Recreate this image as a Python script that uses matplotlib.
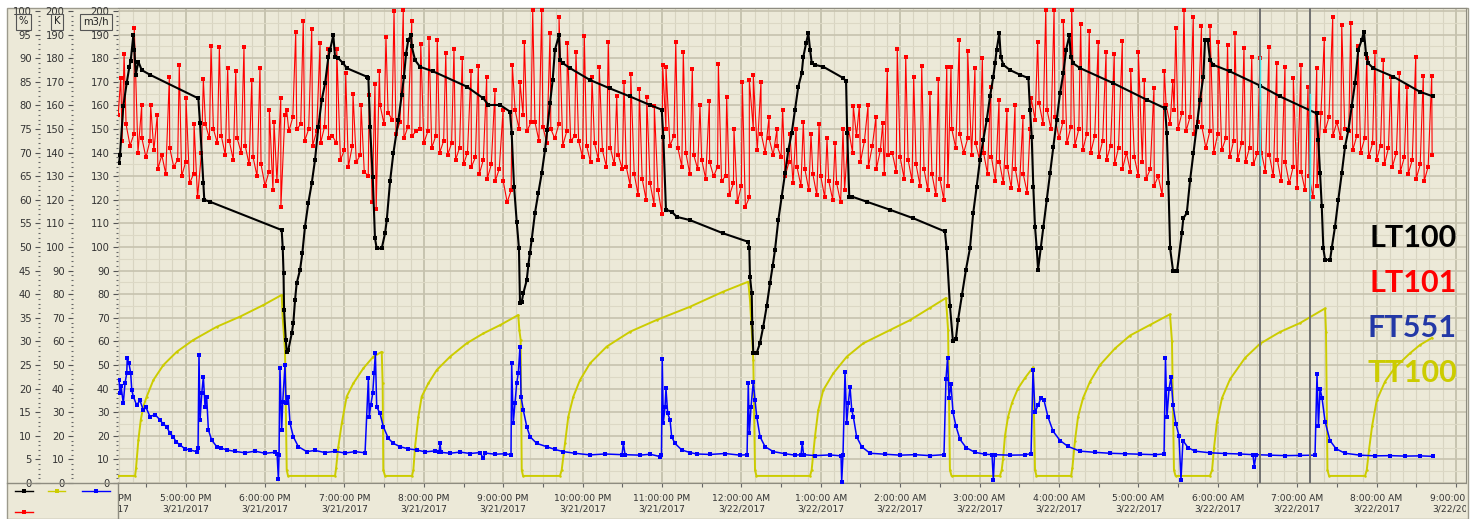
import datetime as dt
import numpy as np
import matplotlib
matplotlib.use("Agg")
import matplotlib.pyplot as plt
from matplotlib.ticker import MultipleLocator, FixedLocator
from matplotlib.transforms import Bbox, TransformedBbox
from matplotlib.lines import Line2D
from matplotlib.patches import Rectangle

W, H = 1470, 519
BG = '#ECE9D8'

# time is in minutes after 4:00:00 PM 3/21/2017
START = dt.datetime(2017, 3, 21, 16, 0, 0)
T_MIN, T_MAX = 8.9, 1027.6
HOURS = list(range(0, 1081, 60))

# LT100 level in % (black)
lt100 = [(9.7, 67.8), (10.4, 69.5), (12.9, 79.8), (15.5, 84.8), (17.5, 88.2), (18.5, 89.5), (20.5, 94.9),
         (21.3, 91.8), (22.3, 86.5), (24.3, 89.3), (26.8, 87.5), (33.1, 86.5), (69.6, 81.5), (70.9, 76.2),
         (73.4, 63.5), (74.1, 60.0), (78.4, 59.6), (132.6, 53.6), (133.4, 49.7), (134.0, 44.4), (134.4, 36.7),
         (135.7, 30.3), (136.4, 27.8), (137.6, 28.2), (140.2, 31.7), (141.4, 33.9), (142.7, 38.8), (143.9, 42.3),
         (146.5, 45.2), (148.2, 48.7), (150.2, 54.3), (152.7, 59.3), (155.3, 63.5), (157.8, 68.5), (160.3, 75.5),
         (162.9, 81.2), (165.4, 84.7), (167.9, 90.3), (169.2, 91.8), (171.6, 94.9), (172.9, 90.3), (175.4, 90.0),
         (179.2, 88.9), (181.8, 87.9), (196.9, 86.1), (198.1, 85.8), (199.4, 75.5), (201.4, 64.9), (203.1, 51.9),
         (204.4, 49.7), (208.2, 49.7), (210.7, 52.9), (212.0, 55.7), (214.5, 63.9), (217.0, 69.9), (220.8, 76.9),
         (223.3, 82.2), (225.0, 86.1), (226.6, 91.0), (228.3, 93.9), (230.3, 94.9), (230.9, 92.5), (233.4, 89.6),
         (237.1, 88.2), (247.2, 87.2), (272.4, 84.0), (285.0, 81.5), (288.8, 80.1), (297.6, 80.1), (305.1, 78.7),
         (306.4, 74.1), (308.2, 62.8), (310.2, 55.4), (311.9, 49.7), (312.7, 38.1), (314.0, 38.4), (315.2, 40.2),
         (317.8, 43.0), (319.0, 46.2), (320.2, 48.7), (321.5, 51.5), (324.0, 57.2), (326.5, 61.4), (329.1, 65.6),
         (331.6, 70.6), (333.3, 74.8), (335.4, 80.5), (337.4, 85.4), (339.1, 91.8), (342.2, 94.9), (342.9, 89.6),
         (345.4, 88.9), (350.5, 87.9), (365.6, 85.4), (380.7, 83.6), (395.8, 81.9), (410.9, 80.1), (419.8, 79.1),
         (421.0, 73.4), (423.0, 57.9), (427.3, 57.5), (431.1, 56.4), (441.2, 55.7), (466.3, 52.9), (485.2, 51.1),
         (486.0, 49.7), (486.5, 43.7), (487.8, 40.2), (488.2, 33.9), (489.0, 27.5), (491.5, 27.5), (494.0, 29.6),
         (496.5, 33.1), (499.1, 37.4), (501.6, 42.3), (503.6, 45.9), (505.4, 49.4), (507.9, 55.7), (510.5, 60.7),
         (513.0, 65.6), (515.5, 70.6), (518.0, 74.1), (520.5, 79.1), (523.0, 84.0), (525.6, 86.8), (526.8, 90.3),
         (528.9, 93.2), (530.6, 95.3), (531.9, 91.8), (533.2, 88.9), (535.6, 88.6), (541.9, 88.2), (557.0, 85.8),
         (559.1, 85.1), (560.0, 74.1), (561.5, 60.7), (563.4, 60.7), (574.7, 59.6), (592.3, 57.9), (609.9, 56.1),
         (633.8, 53.3), (635.1, 49.7), (637.6, 37.5), (639.9, 30.0), (642.1, 30.5), (643.7, 34.5), (646.7, 39.9),
         (649.7, 45.2), (652.7, 49.7), (655.2, 57.2), (657.8, 62.8), (660.3, 68.5), (662.8, 72.7), (665.4, 76.9),
         (667.9, 81.9), (670.4, 86.1), (671.7, 88.9), (672.9, 91.8), (674.9, 95.3), (676.0, 90.3), (678.0, 88.6),
         (683.0, 87.5), (690.6, 86.5), (696.9, 85.8), (698.1, 79.1), (699.4, 73.4), (700.6, 62.8), (701.9, 54.3),
         (703.2, 49.7), (704.2, 45.2), (706.2, 49.7), (708.2, 54.3), (710.8, 60.0), (713.3, 65.6), (715.8, 71.3),
         (718.3, 76.9), (720.8, 82.6), (723.3, 86.8), (725.4, 91.8), (727.9, 94.9), (728.9, 90.3), (730.9, 88.9),
         (736.0, 87.9), (761.2, 84.7), (786.4, 81.2), (800.2, 79.4), (801.5, 74.1), (802.7, 63.5), (804.0, 49.7),
         (806.2, 45.0), (809.3, 45.0), (812.8, 52.9), (814.0, 56.1), (816.6, 57.2), (819.1, 64.2), (821.6, 69.9),
         (824.1, 75.5), (826.6, 81.2), (829.1, 86.1), (830.4, 93.9), (832.4, 93.9), (834.2, 89.6), (836.7, 88.6),
         (849.3, 87.2), (872.0, 84.2), (887.1, 81.9), (914.8, 78.3), (916.0, 72.7), (917.3, 65.6), (918.6, 58.6),
         (919.8, 49.7), (921.1, 47.3), (924.9, 47.3), (926.1, 49.7), (928.6, 54.3), (931.1, 60.0), (933.7, 65.6),
         (936.2, 71.3), (938.7, 74.8), (941.2, 79.8), (943.7, 84.7), (946.2, 91.8), (948.8, 93.9), (950.5, 95.6),
         (952.0, 91.0), (953.8, 88.9), (957.5, 87.9), (972.7, 86.1), (992.8, 82.9), (1002.9, 81.9)]

# LT101 level in % (red): readings every 3 min from 4:09 PM ...
lt101_band_start = 9
lt101_band_step = 3
lt101_band = [78, 72.5, 76, 71.5, 74, 70, 73, 69, 72.5,
              70.5, 66.5, 69.5, 65.5, 71, 67, 68.5, 65, 68, 63.5, 65.5, 60.5, 70,
              76, 73, 75, 72, 73.5, 69.5, 72.5, 68.5, 73, 70, 71.5, 67.5,
              69, 65, 67.5, 63, 66, 62, 64, 58.5, 78, 74.5, 77.5, 75,
              76, 72.5, 75, 71.5, 74.5, 72, 75.5, 73, 73.5, 72, 68.5, 70.5, 67, 71.5, 68, 69.5, 66,
              65, 59.5, 58, 80, 76, 78.5, 77, 74, 76.5, 73, 75.5, 73.5, 74.5,
              75, 72, 74.5, 71, 73.5, 70, 72.5, 69.5, 72, 68.5, 71, 67.5, 70, 67, 69, 65.5, 68.5, 64.5, 67.5, 64, 66.5,
              64, 59.5, 62, 79, 75, 78, 74.5, 76.5,
              76.5, 72.5, 75.5, 72, 75, 73, 76, 71.5, 74.5, 72.5, 73.5,
              72.5, 69, 71.5, 68, 72, 68.5, 70.5, 67, 71, 67.5, 69.5, 66.5,
              67, 63, 65.5, 61, 64.5, 60, 63.5, 59, 62, 57, 75, 71.5, 73.5,
              71, 67, 70, 65.5, 69.5, 66.5, 68.5, 64.5, 68, 65, 67, 64,
              65, 61, 63.5, 59.5, 63, 58.5, 60.5, 75, 70.5, 74, 70, 73, 69.5, 71.5,
              69, 65, 68, 63.5, 67, 63, 66.5, 62, 65.5, 61, 65, 60.5, 64, 60, 63.5, 59.5, 62,
              75, 70, 73.5, 68, 72.5, 67, 71.5, 66.5, 70.5, 65.5, 69.5,
              70, 66, 69, 64.5, 68.5, 64, 67.5, 63, 66.5, 62, 65.5, 61, 64.5, 60, 63,
              75, 71, 74, 70, 73, 69.5, 72, 68.5,
              70, 65.5, 69, 64, 68, 63.5, 67, 62.5, 66.5, 62, 65.5, 61.5,
              81.5, 77, 80.5, 76, 79, 75,
              77.5, 73, 76.5, 72, 75.5, 71.5, 75, 70.5, 74, 70, 73.5, 69, 72.5, 68.5,
              71.5, 67.5, 71, 66.5, 70, 66, 69, 65, 68, 64.5, 66.5, 63, 65, 61,
              80, 76, 79, 75, 78.5, 74.5, 77.5, 74, 76.5,
              75.5, 71, 74.5, 70, 74, 70.5, 73, 69, 72.5, 68.5, 72, 68, 71, 67.5, 70,
              70, 66, 69.5, 65, 68.5, 64, 68, 63.5, 67, 62.5, 66, 62, 65, 60.5, 63,
              78.5, 74.5, 77.5, 73.5, 76.5, 73, 75,
              74.5, 70.5, 73.5, 70, 73, 69, 72, 68.5, 71.5, 67.5, 71, 67, 70, 66, 69, 65.5,
              68.5, 64.5, 67.5, 64, 67, 69.5]
# ... and the spikes (time, %)
lt101_spikes = [(11.0, 85.8), (13.5, 91), (21.2, 96.4), (26.8, 80), (33.6, 80), (38.6, 78), (47.7, 86),
                (55.2, 88.5), (60.3, 81.5), (66.4, 76), (73.4, 85.5), (79.2, 92.5), (85.5, 92.3), (91.8, 87.9),
                (97.9, 87.4), (104.1, 92.3), (110.0, 85.4), (116.2, 88), (123.3, 79), (126.8, 76.5), (131.9, 81.5),
                (136.4, 79), (143.2, 95.5), (148.9, 98), (155.3, 96.2), (161.6, 93.2), (167.8, 92), (174.2, 92),
                (181.0, 86.8), (186.5, 82.5), (192.6, 80), (198.8, 82.2), (203.1, 84.5), (206.4, 87.2),
                (211.4, 94.4), (217.5, 100), (224.5, 100.2), (230.9, 97.8), (237.7, 93), (243.9, 94.2),
                (250.2, 93.9), (256.6, 91.2), (262.8, 91.9), (269.1, 90.1), (275.7, 87.4), (281.2, 88.4),
                (287.5, 86), (293.8, 83.3), (299.9, 79), (306.9, 88.6), (312.7, 85), (316.0, 93.5), (322.3, 100.2),
                (329.1, 100.2), (335.4, 95.3), (342.2, 98.7), (348.5, 93.2), (355.0, 91.4), (361.3, 94.8),
                (367.1, 86), (372.6, 88.2), (379.4, 93.4), (385.8, 81.9), (391.3, 85), (396.4, 86.7), (402.9, 83.4),
                (408.5, 81.7), (414.2, 79.9), (420.5, 88.6), (423.0, 88.2), (430.4, 93.4), (436.1, 91.3),
                (442.9, 87.7), (448.7, 80), (455.8, 81), (462.6, 88.8), (468.9, 81.7), (474.4, 75), (480.7, 85),
                (486.0, 85.3), (489.0, 86.5), (494.8, 85), (500.9, 77.5), (506.9, 75), (511.2, 79), (516.7, 74),
                (521.3, 75), (526.8, 76.4), (532.6, 74), (538.7, 76), (544.7, 73), (550.8, 72), (556.8, 75),
                (564.6, 79.8), (569.1, 79.9), (575.7, 80), (581.7, 77.5), (586.8, 76.2), (590.3, 87.5),
                (597.8, 91.9), (604.2, 90.3), (610.2, 86), (616.3, 88.4), (622.5, 82.7), (628.8, 85.5),
                (635.2, 88.2), (638.4, 88.2), (644.7, 93.9), (651.0, 91.6), (656.5, 87.9), (662.1, 90), (668.4, 84),
                (674.7, 81.2), (680.7, 79), (686.8, 80), (692.8, 77.5), (698.1, 75), (703.9, 93.5), (710.0, 100.2),
                (716.3, 100.2), (723.3, 98), (729.6, 100.2), (736.4, 97.2), (742.9, 95.8), (749.7, 93.4),
                (755.6, 91.3), (761.8, 91), (767.9, 93.7), (774.2, 87.5), (780.0, 91.3), (784.5, 85.4),
                (791.8, 83.8), (799.6, 87.4), (806.0, 85.2), (808.3, 96.4), (814.5, 100.2), (821.5, 98.8),
                (827.7, 96.8), (834.1, 96.8), (840.4, 93.5), (847.4, 92.8), (853.0, 95.3), (859.8, 92.1),
                (865.7, 90.3), (871.9, 90), (878.7, 92.3), (884.6, 89), (890.8, 88.2), (897.1, 85.8), (902.9, 88.6),
                (908.2, 84), (914.8, 87.9), (920.5, 94), (926.9, 98.8), (933.7, 97), (940.5, 97.5), (946.0, 92.5),
                (952.6, 90), (958.8, 91.4), (965.1, 89.6), (970.9, 86), (977.2, 86.8), (983.0, 84), (989.6, 90.2),
                (995.3, 86.3), (1001.7, 86.3)]

# FT551 flow in m3/h (blue)
ft551 = [(9.7, 43.6), (10.4, 38), (11.2, 41), (12.9, 33.8), (14.2, 42.3), (15.5, 46.5), (15.9, 52.8), (17.2, 50.7),
         (18.5, 46.5), (19.3, 39.4), (20.5, 36.6), (23.0, 33), (25.5, 35), (28.0, 30.9), (30.1, 32), (33.1, 28.1),
         (36.9, 29), (40.7, 26.7), (42.9, 25), (45.7, 23.9), (48.2, 21), (50.7, 19.6), (52.7, 17.5), (55.8, 16.1),
         (59.5, 14.5), (63.3, 14), (68.4, 13.3), (69.4, 15), (70.1, 54.2), (70.9, 26.7), (72.2, 38), (73.4, 45),
         (74.7, 32.3), (75.9, 36.6), (77.2, 22.5), (79.7, 18.2), (83.5, 15.4), (86.8, 14.8), (91.1, 14),
         (97.3, 13.4), (104.9, 12.8), (112.4, 13.5), (120.0, 12.6), (127.6, 13.0), (129.1, 12.5), (130.1, 1.6),
         (130.6, 12), (131.3, 48.6), (132.6, 22.5), (133.4, 34.4), (135.1, 50), (135.9, 33.8), (137.6, 36.6),
         (138.9, 25.3), (141.4, 19.6), (145.2, 15.4), (151.5, 13.3), (157.8, 13.8), (165.3, 12.9), (172.9, 13.4),
         (180.5, 12.7), (188.0, 13.3), (195.6, 12.8), (198.1, 44.3), (198.8, 28.1), (199.9, 33), (201.4, 38),
         (202.4, 46.5), (203.4, 55), (204.4, 32.3), (206.9, 29.5), (209.4, 23.9), (213.2, 18.9), (217.0, 16.8),
         (222.0, 15.4), (228.1, 14.5), (234.6, 14), (240.9, 13.2), (248.5, 13.6), (251.5, 13), (252.3, 16.8),
         (253.0, 13), (259.8, 12.6), (267.4, 13.1), (274.9, 12.5), (282.5, 12.9), (285.0, 10.5), (286.3, 12.7),
         (293.8, 12.2), (301.4, 12.4), (305.9, 12), (306.4, 50.7), (307.6, 25.3), (308.9, 33.8), (310.2, 42.2),
         (311.4, 46.5), (312.7, 57.8), (313.5, 36.6), (315.2, 30.9), (317.8, 23.9), (320.3, 19.6), (325.3, 16.8),
         (332.9, 15.4), (339.2, 14.2), (345.4, 13.3), (354.3, 12.6), (365.6, 11.9), (376.9, 12.3), (389.8, 12),
         (390.8, 16.8), (392.1, 12), (403.4, 11.8), (411.0, 12.2), (418.5, 11.2), (419.6, 12), (420.2, 52.4),
         (421.0, 25.3), (422.3, 32.3), (423.0, 40.1), (424.3, 29.5), (426.1, 26.7), (427.3, 19.6), (429.8, 16.8),
         (434.9, 14), (441.2, 12.9), (446.2, 12.3), (456.3, 12.1), (467.6, 12.5), (479.0, 11.8), (484.3, 12),
         (485.2, 42.2), (486.0, 21), (487.3, 32.3), (489.0, 42.9), (490.3, 35.2), (491.6, 28.1), (494.1, 19.6),
         (497.9, 15.4), (504.1, 13.3), (513.0, 12.4), (520.5, 11.8), (525.1, 12), (526.0, 17.1), (527.0, 12),
         (535.6, 11.6), (547.0, 11.9), (555.3, 11.5), (555.8, 0.6), (556.8, 12), (558.3, 47.2), (559.6, 25.3),
         (560.8, 33.8), (562.1, 40.8), (563.4, 30.9), (564.6, 28.1), (567.1, 19.6), (570.9, 15.4), (577.2, 12.6),
         (588.5, 12.2), (599.9, 11.8), (611.2, 12), (622.5, 11.6), (633.1, 12), (634.6, 44), (635.8, 53),
         (636.9, 36), (638.4, 42), (639.9, 30), (642.2, 24), (645.2, 18.5), (649.8, 15), (656.5, 13),
         (664.1, 12.2), (669.4, 12), (670.4, 1.3), (671.3, 12), (683.0, 11.8), (694.3, 11.9), (698.9, 12.5),
         (700.4, 48), (701.9, 30), (704.2, 33), (706.4, 36), (708.7, 35), (711.7, 28), (715.5, 22), (720.8, 18),
         (726.8, 15.5), (735.9, 13.5), (747.2, 13), (758.6, 12.6), (769.9, 12.4), (781.2, 12.2), (792.6, 12),
         (799.4, 12.3), (800.5, 53), (801.6, 28), (803.2, 40), (804.7, 45), (806.2, 33), (808.4, 25), (810.7, 20),
         (812.2, 1.3), (813.7, 18), (817.5, 15), (822.8, 13.5), (834.1, 12.8), (845.5, 12.5), (856.8, 12.3),
         (866.6, 12), (867.6, 6.9), (868.9, 12), (879.5, 11.8), (890.8, 11.6), (902.2, 11.7), (913.5, 11.8),
         (915.0, 46), (916.1, 24), (917.3, 40), (918.8, 36), (921.1, 26), (924.8, 18), (929.4, 14.5),
         (936.2, 12.6), (947.5, 11.8), (958.8, 11.5), (970.2, 11.6), (981.5, 11.4), (992.8, 11.5), (1002.7, 11.3)]

# TT100 in K (yellow)
tt100 = [(8.9, 3), (21.8, 3), (22.5, 6.2), (24.3, 18.2), (26.1, 26.7), (28.0, 32.3), (30.6, 36.6), (35.6, 43.6),
         (43.2, 50), (53.3, 55.6), (65.8, 60.6), (83.5, 66.2), (101.1, 70.5), (118.7, 75.4), (132.6, 79.7),
         (133.4, 69.8), (135.1, 56.4), (136.4, 5.5), (137.4, 3), (172.9, 3), (173.7, 6.2), (175.4, 15.4),
         (178.0, 25.3), (181.7, 36.6), (186.7, 42.2), (194.3, 48.6), (201.8, 53.5), (208.2, 55.6), (208.9, 42.2),
         (209.4, 5.5), (210.7, 3), (231.1, 3), (232.1, 5.5), (233.4, 15.4), (235.9, 28.1), (238.4, 36.6),
         (243.4, 42.2), (249.8, 47.9), (259.8, 53.5), (272.4, 59.2), (285.0, 63.4), (297.6, 66.9), (311.4, 71.2),
         (312.2, 64.8), (313.2, 60.6), (314.0, 5.5), (315.0, 3), (342.9, 3), (344.2, 5.5), (346.7, 16.8),
         (349.2, 28.1), (353.0, 36.6), (358.0, 43.6), (365.6, 50.7), (378.2, 57.8), (395.8, 64.1), (416.0, 69.1),
         (441.2, 74.7), (466.3, 81.1), (485.2, 85.3), (486.5, 77.5), (487.8, 64.8), (489.0, 52.1), (490.3, 5.5),
         (491.4, 3), (531.9, 3), (533.1, 5.5), (535.6, 19.6), (538.1, 30.9), (541.9, 39.4), (549.5, 46.5),
         (559.6, 53.5), (572.1, 59.2), (592.3, 64.8), (607.4, 69), (622.5, 74.2), (634.6, 78.4), (636.2, 64.8),
         (637.6, 5.5), (638.8, 3), (675.4, 3), (676.7, 5.5), (677.7, 10), (679.2, 20), (681.5, 28), (684.5, 34),
         (689.0, 40), (694.3, 44.5), (700.4, 49), (701.1, 30), (701.9, 5.5), (703.0, 3), (729.1, 3), (730.1, 6.2),
         (732.1, 18), (734.4, 28), (738.2, 36), (743.5, 43), (751.0, 50), (762.3, 57), (773.7, 62.5), (788.8, 67),
         (803.9, 71.5), (805.4, 60), (806.9, 5.5), (808.1, 3), (834.1, 3), (835.7, 5.5), (837.2, 15), (839.4, 26),
         (843.2, 36), (849.3, 44), (860.6, 53), (871.9, 59), (887.0, 64), (902.2, 67.8), (921.1, 74),
         (921.8, 64.1), (922.9, 5.5), (924.1, 3), (951.3, 3), (952.6, 5.5), (954.3, 14), (956.6, 24), (960.1, 35),
         (966.4, 43), (974.0, 49), (985.3, 55), (992.8, 58.5), (1001.9, 61.5)]

# trend cursors (minutes)
cursors = [871.9, 909.7]

names = ['LT100', 'LT101', 'FT551', 'TT100']
colors = ['#000000', '#FF0000', '#2338A6', '#CCCC00']

fig = plt.figure(figsize=(W / 100, H / 100), dpi=100)
fig.patch.set_facecolor('white')
fig.add_artist(Rectangle((7 / W, 0), (W - 9) / W, (H - 8) / H, transform=fig.transFigure,
                         facecolor=BG, edgecolor='#9C9A8C', lw=1, zorder=-10))

ax = fig.add_axes([118 / W, 36 / H, 1348 / W, 475 / H])
ax.set_facecolor(BG)

# grid
for m in np.arange(0, 1081, 10):
    major = m % 60 == 0
    ax.axvline(m, color='#BDB9A5' if major else '#D8D4C1', lw=1.1 if major else 0.8, zorder=0.5)
for y in np.arange(0, 201, 5):
    major = y % 10 == 0
    ax.axhline(y, color='#C6C2AE' if major else '#DCD8C5', lw=1.2 if major else 0.8, zorder=0.5)

# flow and temperature on the main scale
tt_t, tt_v = np.array(tt100).T
ax.plot(tt_t, tt_v, color=colors[3], lw=1.4, marker='o', ms=1.8, mew=0, zorder=2)
fl_t, fl_v = np.array(ft551).T
ax.plot(fl_t, fl_v, color='#0000FF', lw=1.1, marker='s', ms=2.4, mew=0, zorder=3)

# levels on the % scale
axp = ax.twinx()
axp.set_axis_off()
band_t = lt101_band_start + lt101_band_step * np.arange(len(lt101_band))
sp_t, sp_v = np.array(lt101_spikes).T
red_t = np.concatenate([band_t, sp_t])
red_v = np.concatenate([lt101_band, sp_v])
order = np.argsort(red_t, kind='stable')
axp.plot(red_t[order], red_v[order], color='#FF0000', lw=0.8, marker='s', ms=2.2, mew=0, zorder=2)
lv_t, lv_v = np.array(lt100).T
axp.plot(lv_t, lv_v, color='#000000', lw=1.5, marker='s', ms=2.6, mew=0, zorder=3)

for c in cursors:
    axp.axvline(c, color='#707070', lw=1.4, zorder=5)
axp.plot([cursors[0]] * 2, [67.4, 90.3], color='#40E0E8', lw=1.0, zorder=6)
axp.plot([cursors[1]] * 2, [60.0, 82.5], color='#40E0E8', lw=1.0, zorder=6)

# limits after everything is drawn (shared x)
ax.set_xlim(T_MIN, T_MAX)
ax.set_ylim(0, 201.3)
axp.set_ylim(0, 100.65)

# spines and ticks
ax.spines['left'].set_visible(False)
for side in ['top', 'right', 'bottom']:
    ax.spines[side].set_color('#8E8C80')
ax.yaxis.set_major_locator(FixedLocator(np.arange(0, 201, 10)))
ax.yaxis.set_minor_locator(FixedLocator(np.arange(0, 201, 2)))
ax.set_xticks(HOURS)
ax.set_xticks(np.arange(0, 1081, 30), minor=True)
ax.set_xlim(T_MIN, T_MAX)
ax.tick_params(axis='x', which='both', direction='out', length=3, width=0.8, color='#666',
               labelbottom=False)
ax.tick_params(axis='y', which='major', direction='out', length=3.6, width=0.8, color='#555',
               labelsize=7.2, labelcolor='#333', pad=2.5)
ax.tick_params(axis='y', which='minor', direction='out', length=1.5, width=0.8, color='#666')

scales = [(-0.05786, (lambda y: y / 2, lambda y: y * 2), 100, 5),
          (-0.03338, (lambda y: y, lambda y: y), 200, 10)]
for loc, funcs, top, step in scales:
    sec = ax.secondary_yaxis(loc, functions=funcs)
    for sp in sec.spines.values():
        sp.set_visible(False)
    sec.yaxis.set_major_locator(FixedLocator(np.arange(0, top + 1, step)))
    sec.yaxis.set_minor_locator(FixedLocator(np.arange(0, top + 1, step / 5)))
    sec.tick_params(which='major', direction='out', length=3.6, width=0.8, color='#555',
                    labelsize=7.2, labelcolor='#333', pad=2.5)
    sec.tick_params(which='minor', direction='out', length=1.5, width=0.8, color='#666')

# time labels, clipped to the plot width
clip = TransformedBbox(Bbox([[0, -1], [1, 1]]), ax.transAxes)
for m in HOURS:
    t = START + dt.timedelta(minutes=m)
    ampm = 'AM' if t.hour < 12 else 'PM'
    txt = f"{t.hour % 12 or 12}:{t.minute:02d}:{t.second:02d} {ampm}\n{t.month}/{t.day}/{t.year}"
    lab = ax.text(m, -0.024, txt, transform=ax.get_xaxis_transform(), ha='center', va='top',
                  fontsize=6.6, color='#333', linespacing=1.15)
    lab.set_clip_path(None)
    lab.set_clip_box(clip)
    lab.set_clip_on(True)

# unit boxes
for x, unit in [(23.5, '%'), (57, 'K'), (96, 'm3/h')]:
    fig.text(x / W, 1 - 21.5 / H, unit, ha='center', va='center', fontsize=7.2, color='#222',
             bbox=dict(boxstyle='square,pad=0.3', fc=BG, ec='#555', lw=0.8), zorder=10)

# panel lines
fig.add_artist(Line2D([7 / W, 118 / W], [1 - 483 / H] * 2, color='#8E8C80', lw=1))
fig.add_artist(Line2D([118 / W, 118 / W], [0, 1 - 483 / H], color='#8E8C80', lw=1))

# pen samples bottom left
pens = [(15, 33, 491, '#000000'), (48, 65, 491, colors[3]), (82, 110, 491, '#0000FF'), (15, 33, 511.5, '#FF0000')]
for x0, x1, y, c in pens:
    fig.add_artist(Line2D([x0 / W, x1 / W], [1 - y / H] * 2, color=c, lw=1))
    fig.add_artist(Line2D([(x0 + x1) / 2 / W], [1 - y / H], color=c, marker='s', ms=2.5, mew=0))

# tag names on the right
for name, c, yb in zip(names, colors, [247, 292, 337, 382]):
    fig.text(1457 / W, 1 - yb / H, name, ha='right', va='baseline', fontsize=22,
             fontweight='bold', family='Lato', color=c, zorder=10)

fig.savefig('out.png', dpi=100)
